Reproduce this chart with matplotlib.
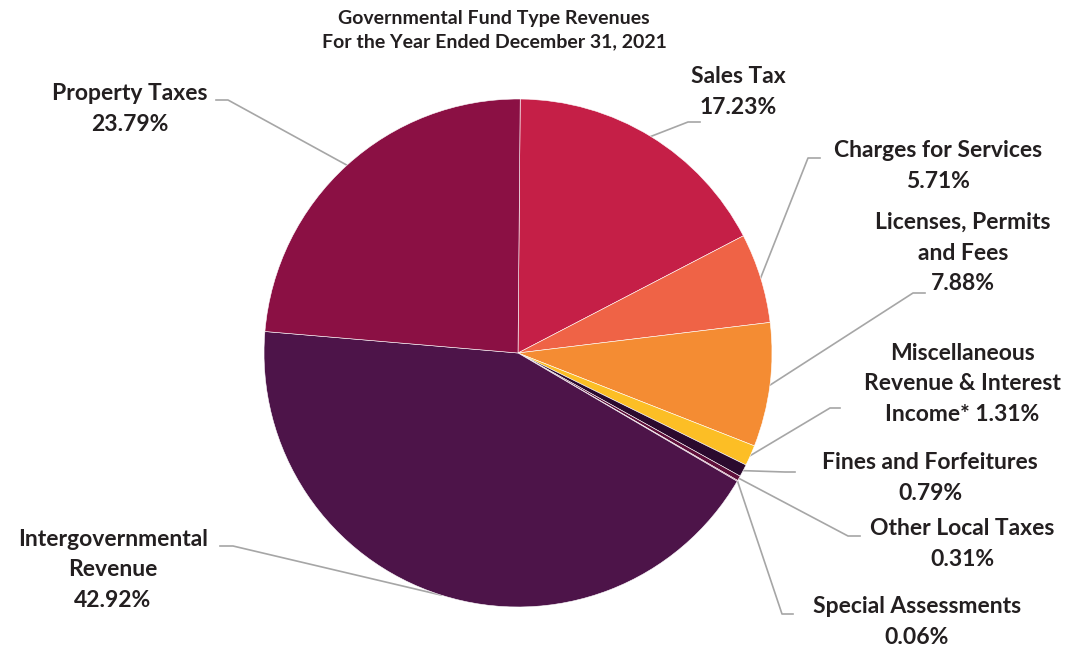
import numpy as np
import matplotlib
matplotlib.use('Agg')
import matplotlib.pyplot as plt

# data, clockwise from 12 o'clock
categories = ['Sales Tax', 'Charges for Services', 'Licenses, Permits and Fees',
              'Miscellaneous Revenue & Interest Income*', 'Fines and Forfeitures',
              'Other Local Taxes', 'Special Assessments',
              'Intergovernmental Revenue', 'Property Taxes']
shares = [17.23, 5.71, 7.88, 1.31, 0.79, 0.31, 0.06, 42.92, 23.79]
label_text = ['Sales Tax\n17.23%', 'Charges for Services\n5.71%',
              'Licenses, Permits\nand Fees\n7.88%',
              'Miscellaneous\nRevenue & Interest\nIncome* 1.31%',
              'Fines and Forfeitures\n0.79%', 'Other Local Taxes\n0.31%',
              'Special Assessments\n0.06%', 'Intergovernmental\nRevenue\n42.92%',
              'Property Taxes\n23.79%']
colors = ['#C51F47', '#EF6346', '#F48C33', '#FCBE25', '#2B0A2E',
          '#5E0F3A', '#8B1044', '#4D1449', '#8B1044']

W, H = 1065, 653
cx, cy, R = 518, 300, 254

# label layout in pixel coords: text centre, elbow start (near text), elbow end
label_pos = [(738, 92), (938, 166), (963, 253), (962, 384), (930, 478),
             (962, 544), (917, 622), (113, 570), (130, 109)]
elbows = [((700, 122), (688, 122)), ((820, 158), (808, 158)),
          ((925, 293), (913, 293)), ((840, 408), (830, 408)),
          ((795, 472), (785, 472)), ((860, 536), (848, 536)),
          ((793, 614), (782, 614)), ((220, 546), (233, 546)),
          ((216, 100), (228, 100))]

plt.rcParams['font.family'] = ['Lato', 'DejaVu Sans']

fig = plt.figure(figsize=(W / 100, H / 100), dpi=100)
ax = fig.add_axes([0, 0, 1, 1])

wedges, _ = ax.pie(shares, colors=colors, startangle=89.5, counterclock=False,
                   center=(cx, cy), radius=R,
                   wedgeprops=dict(edgecolor='white', linewidth=0.4))
ax.set_xlim(0, W)
ax.set_ylim(0, H)
ax.set_aspect('equal')
ax.axis('off')

txt_color = '#231F20'
line_color = '#A6A6A6'
for w, txt, (tx, ty), (p0, p1) in zip(wedges, label_text, label_pos, elbows):
    mid = np.deg2rad((w.theta1 + w.theta2) / 2)
    ex, ey = cx + R * np.cos(mid), cy + R * np.sin(mid)
    xs = [p0[0], p1[0], ex]
    ys = [H - p0[1], H - p1[1], ey]
    ax.plot(xs, ys, color=line_color, lw=1.2, zorder=0)
    ax.text(tx, H - ty, txt, ha='center', va='center', fontsize=16.5,
            fontweight='bold', color=txt_color, linespacing=1.58)

ax.text(494, H - 30, 'Governmental Fund Type Revenues\nFor the Year Ended December 31, 2021',
        ha='center', va='center', fontsize=14, fontweight='bold',
        color=txt_color, linespacing=1.4)

fig.savefig('out.png', dpi=100)
